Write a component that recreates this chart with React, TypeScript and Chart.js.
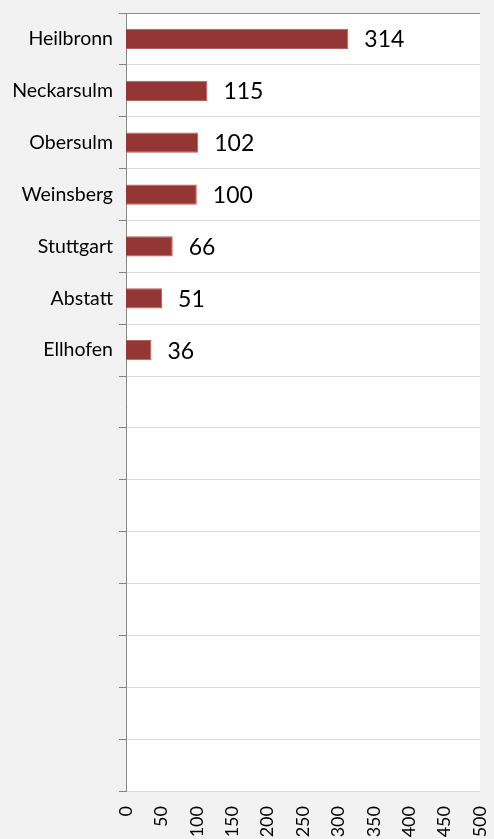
import React, { useEffect, useRef } from "react";
import { Chart, registerables } from "chart.js";

Chart.register(...registerables);

const categories = [
  "Heilbronn",
  "Neckarsulm",
  "Obersulm",
  "Weinsberg",
  "Stuttgart",
  "Abstatt",
  "Ellhofen",
  "",
  "",
  "",
  "",
  "",
  "",
  "",
  "",
];
const values = [314, 115, 102, 100, 66, 51, 36];
const xMin = 0;
const xMax = 500;
const xStep = 50;

const FONT = "Lato, 'Open Sans', sans-serif";

const plotBg = {
  id: "plotBg",
  beforeDraw(chart: any) {
    const { ctx, chartArea } = chart;
    ctx.save();
    ctx.fillStyle = "#ffffff";
    ctx.fillRect(chartArea.left, chartArea.top, chartArea.right - chartArea.left, chartArea.bottom - chartArea.top);
    ctx.restore();
  },
};

const valueLabels = {
  id: "valueLabels",
  afterDatasetsDraw(chart: any) {
    const { ctx } = chart;
    const meta = chart.getDatasetMeta(0);
    const data = chart.data.datasets[0].data;
    ctx.save();
    ctx.fillStyle = "#000000";
    ctx.font = `23px ${FONT}`;
    ctx.textAlign = "left";
    ctx.textBaseline = "middle";
    meta.data.forEach((bar: any, i: number) => {
      if (data[i] == null) return;
      ctx.fillText(String(data[i]), bar.x + 16, bar.y + 1);
    });
    ctx.restore();
  },
};

export default function App() {
  const ref = useRef<HTMLCanvasElement | null>(null);
  useEffect(() => {
    if (!ref.current) return;
    const chart = new Chart(ref.current, {
      type: "bar",
      data: {
        labels: categories,
        datasets: [
          {
            data: values,
            backgroundColor: "#943634",
            borderColor: "#b0605e",
            borderWidth: 1,
            barPercentage: 0.39,
            categoryPercentage: 1,
          },
        ],
      },
      options: {
        indexAxis: "y",
        animation: false,
        responsive: false,
        maintainAspectRatio: false,
        layout: { padding: { top: 13, right: 14, left: 0, bottom: 0 } },
        plugins: { legend: { display: false }, tooltip: { enabled: false } },
        scales: {
          y: {
            type: "category",
            afterFit(scale: any) {
              scale.width = 126;
              scale.paddingTop = 0;
              scale.paddingBottom = 0;
            },
            grid: {
              display: true,
              offset: true,
              drawTicks: true,
              tickLength: 7,
              tickColor: "#868686",
              color: (ctx: any) => (ctx.index === 0 ? "#8c8c8c" : "#d9d9d9"),
              lineWidth: 1,
            },
            border: { display: true, color: "#868686", width: 1 },
            ticks: {
              color: "#000000",
              font: { family: FONT, size: 19.5 },
              padding: 6,
              autoSkip: false,
            },
          },
          x: {
            type: "linear",
            min: xMin,
            max: xMax,
            afterFit(scale: any) {
              scale.height = 48;
              scale.paddingLeft = 0;
              scale.paddingRight = 0;
            },
            grid: { display: false },
            border: { display: false },
            ticks: {
              stepSize: xStep,
              minRotation: 90,
              maxRotation: 90,
              autoSkip: false,
              color: "#000000",
              font: { family: FONT, size: 18 },
              padding: 7,
            },
          },
        },
      },
      plugins: [plotBg, valueLabels],
    });
    return () => chart.destroy();
  }, []);
  return (
    <div
      style={{
        position: "fixed",
        left: 0,
        top: 0,
        width: 494,
        height: 839,
        background: "#f2f2f2",
      }}
    >
      <canvas ref={ref} width={494} height={839} style={{ display: "block" }} />
    </div>
  );
}
